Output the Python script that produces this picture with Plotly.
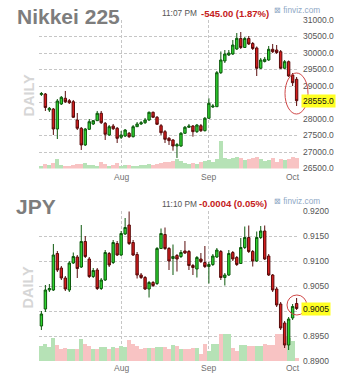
import plotly.graph_objects as go

# ---------------- data ----------------
days = list(range(65))
month_pos = [20, 42, 63]
month_names = ["Aug", "Sep", "Oct"]

nk_open = [28743, 28758, 28273, 28303, 27697, 28455, 28628, 28555, 28525, 27970,
           27719, 27213, 27688, 27849, 27949, 28173, 27870, 27516, 27788, 27719,
           27446, 27485, 27567, 27464, 27767, 27849, 27888, 27970, 28203, 28052,
           27797, 27616, 27415, 27364, 27182, 27182, 27567, 27749, 27788, 27616,
           27797, 27646, 28022, 28364, 28373, 29403, 29758, 29940, 29970, 30121,
           30440, 30167, 30440, 30288, 30152, 29537, 29743, 29788, 30112, 30091,
           30040, 29537, 29737, 29334, 29203]
nk_high = [28818, 28788, 28364, 28334, 28606, 28697, 28849, 28606, 28576, 28182,
           27758, 27728, 28000, 27970, 28243, 28243, 27909, 27818, 27849, 27758,
           27636, 27697, 27606, 27818, 27909, 27940, 28031, 28228, 28228, 28091,
           27849, 27667, 27455, 27394, 27273, 27606, 27788, 27849, 27818, 27849,
           27849, 28061, 28627, 28455, 29455, 30046, 30091, 30091, 30394, 30606,
           30636, 30485, 30515, 30333, 30197, 29849, 29879, 30212, 30273, 30242,
           30091, 29788, 29773, 29394, 29273]
nk_low = [28697, 28243, 28212, 27516, 27394, 28424, 28485, 28455, 28031, 27667,
          27061, 27182, 27667, 27818, 27940, 27849, 27364, 27485, 27667, 27273,
          27394, 27455, 27425, 27440, 27758, 27818, 27849, 27940, 28031, 27818,
          27516, 27273, 27213, 27040, 26819, 27152, 27546, 27728, 27464, 27576,
          27606, 27622, 28000, 28334, 28364, 29364, 29697, 29909, 29940, 30091,
          30121, 30152, 30242, 30091, 29303, 29515, 29712, 29758, 30000, 29970,
          29515, 29515, 29273, 29000, 28394]
nk_close = [28773, 28349, 28324, 27697, 28546, 28658, 28525, 28494, 28052, 27719,
            27213, 27697, 27918, 27949, 28173, 27888, 27537, 27767, 27706, 27415,
            27516, 27667, 27464, 27767, 27849, 27888, 27970, 28203, 28052, 27840,
            27585, 27385, 27343, 27182, 27222, 27567, 27749, 27788, 27616, 27818,
            27646, 28022, 28476, 28394, 29403, 29788, 29970, 30000, 30242, 30445,
            30167, 30440, 30273, 30137, 29537, 29788, 29809, 30112, 30040, 30015,
            29537, 29737, 29303, 29100, 28555]
nk_vol = [3, 5, 4, 6, 10, 4, 3, 3, 4, 5,
          5, 6, 4, 4, 3, 7, 5, 3, 4, 6,
          3, 4, 4, 3, 3, 4, 4, 5, 4, 5,
          6, 7, 7, 8, 10, 8, 6, 5, 6, 5,
          7, 8, 9, 7, 10, 28, 11, 10, 11, 12,
          11, 9, 10, 11, 12, 10, 8, 9, 11, 7,
          10, 9, 10, 12, 11]

jp_open = [0.8970, 0.9004, 0.9042, 0.9042, 0.9115, 0.9086, 0.9066, 0.9042, 0.9096, 0.9108,
           0.9088, 0.9139, 0.9104, 0.9069, 0.9082, 0.9045, 0.9062, 0.9115, 0.9097, 0.9135,
           0.9112, 0.9154, 0.9172, 0.9137, 0.9113, 0.9072, 0.9067, 0.9044, 0.9057, 0.9055,
           0.9125, 0.9153, 0.9125, 0.9105, 0.9111, 0.9109, 0.9120, 0.9119, 0.9091, 0.9084,
           0.9104, 0.9097, 0.9089, 0.9093, 0.9108, 0.9119, 0.9067, 0.9072, 0.9117, 0.9107,
           0.9095, 0.9127, 0.9147, 0.9119, 0.9100, 0.9147, 0.9160, 0.9110, 0.9072, 0.9044,
           0.9014, 0.8976, 0.8932, 0.8986, 0.9015]
jp_high = [0.9000, 0.9052, 0.9054, 0.9134, 0.9120, 0.9090, 0.9070, 0.9100, 0.9117, 0.9112,
           0.9172, 0.9150, 0.9108, 0.9086, 0.9086, 0.9066, 0.9122, 0.9118, 0.9142, 0.9140,
           0.9160, 0.9186, 0.9199, 0.9142, 0.9118, 0.9076, 0.9070, 0.9060, 0.9060, 0.9128,
           0.9165, 0.9167, 0.9128, 0.9133, 0.9114, 0.9122, 0.9140, 0.9122, 0.9094, 0.9110,
           0.9116, 0.9130, 0.9098, 0.9114, 0.9126, 0.9122, 0.9076, 0.9122, 0.9120, 0.9110,
           0.9146, 0.9169, 0.9171, 0.9122, 0.9159, 0.9170, 0.9171, 0.9114, 0.9074, 0.9048,
           0.9018, 0.8980, 0.8988, 0.9014, 0.9026]
jp_low = [0.8962, 0.8998, 0.9038, 0.9040, 0.9078, 0.9062, 0.9040, 0.9038, 0.9094, 0.9066,
          0.9086, 0.9106, 0.9066, 0.9066, 0.9042, 0.9042, 0.9060, 0.9088, 0.9094, 0.9110,
          0.9110, 0.9152, 0.9132, 0.9110, 0.9065, 0.9064, 0.9042, 0.9027, 0.9048, 0.9052,
          0.9124, 0.9122, 0.9082, 0.9072, 0.9079, 0.9106, 0.9114, 0.9082, 0.9072, 0.9067,
          0.9096, 0.9086, 0.9055, 0.9090, 0.9106, 0.9062, 0.9051, 0.9070, 0.9100, 0.9090,
          0.9094, 0.9124, 0.9116, 0.9089, 0.9098, 0.9144, 0.9102, 0.9070, 0.9038, 0.9008,
          0.8962, 0.8926, 0.8922, 0.8982, 0.9002]
jp_close = [0.8994, 0.9042, 0.9045, 0.9112, 0.9082, 0.9066, 0.9044, 0.9096, 0.9109, 0.9085,
            0.9139, 0.9109, 0.9069, 0.9081, 0.9045, 0.9062, 0.9117, 0.9092, 0.9137, 0.9112,
            0.9155, 0.9167, 0.9135, 0.9112, 0.9072, 0.9067, 0.9044, 0.9057, 0.9051, 0.9125,
            0.9155, 0.9125, 0.9100, 0.9109, 0.9104, 0.9117, 0.9116, 0.9091, 0.9087, 0.9107,
            0.9099, 0.9089, 0.9093, 0.9110, 0.9122, 0.9067, 0.9072, 0.9115, 0.9104, 0.9093,
            0.9127, 0.9147, 0.9119, 0.9100, 0.9147, 0.9160, 0.9104, 0.9072, 0.9042, 0.9012,
            0.8966, 0.8932, 0.8984, 0.9009, 0.9005]
jp_vol = [15, 17, 14, 23, 16, 12, 13, 12, 12, 12,
          22, 17, 15, 12, 12, 14, 14, 12, 14, 13,
          15, 14, 21, 17, 15, 12, 13, 13, 13, 14,
          14, 14, 12, 16, 15, 12, 12, 12, 13, 13,
          7, 17, 10, 17, 17, 27, 27, 27, 13, 10,
          16, 16, 15, 15, 15, 15, 17, 16, 16, 27,
          27, 25, 23, 20, 3]

nk_ticks = [26500, 27000, 27500, 28000, 28500, 29000, 29500, 30000, 30500, 31000]
jp_ticks = [0.8900, 0.8950, 0.9000, 0.9050, 0.9100, 0.9150, 0.9200]

# ---------------- styling ----------------
FONT = "Liberation Sans, Arial, sans-serif"
GRID = "#c6c6c6"
UP_FILL, UP_LINE = "#2fd42f", "#0d5a0d"
DN_FILL, DN_LINE = "#d41c1c", "#5a0c0c"
VUP, VDN = "#b6e2b6", "#f8c3c3"

def vcolors(o, c):
    return [VUP if cc >= oo else VDN for oo, cc in zip(o, c)]

def labels(ticks, fmt, last):
    # the tick label hidden behind the yellow last-price box is left blank
    out = []
    for t in ticks:
        near = abs(t - last) < (ticks[1] - ticks[0]) * 0.3
        out.append("" if near else fmt % t)
    return out

fig = go.Figure()
fig.add_trace(go.Bar(x=days, y=nk_vol, marker=dict(color=vcolors(nk_open, nk_close), line=dict(width=0)),
                     width=1.0, xaxis="x", yaxis="y", showlegend=False, hoverinfo="skip"))
fig.add_trace(go.Candlestick(x=days, open=nk_open, high=nk_high, low=nk_low, close=nk_close,
                             xaxis="x", yaxis="y3", showlegend=False, whiskerwidth=0,
                             increasing=dict(fillcolor=UP_FILL, line=dict(color=UP_LINE, width=1)),
                             decreasing=dict(fillcolor=DN_FILL, line=dict(color=DN_LINE, width=1))))
fig.add_trace(go.Bar(x=days, y=jp_vol, marker=dict(color=vcolors(jp_open, jp_close), line=dict(width=0)),
                     width=1.0, xaxis="x2", yaxis="y2", showlegend=False, hoverinfo="skip"))
fig.add_trace(go.Candlestick(x=days, open=jp_open, high=jp_high, low=jp_low, close=jp_close,
                             xaxis="x2", yaxis="y4", showlegend=False, whiskerwidth=0,
                             increasing=dict(fillcolor=UP_FILL, line=dict(color=UP_LINE, width=1)),
                             decreasing=dict(fillcolor=DN_FILL, line=dict(color=DN_LINE, width=1))))

W, H = 351, 385
L, R, T, B = 39, 52, 20, 24
PW, PH = W - L - R, H - T - B

def px(xp):
    return (xp - L) / PW

def py(yp):
    return (H - B - yp) / PH

top_dom = [py(168.5), 1.0]
bot_dom = [0.0, py(211)]

xcommon = dict(range=[-0.6, 64.6], tickvals=[-0.5, 20, 42, 64.4], showticklabels=False,
               showgrid=True, gridcolor=GRID, griddash="3px,2px", gridwidth=1,
               zeroline=False, showline=False, ticks="", fixedrange=True,
               rangeslider=dict(visible=False))
ycommon = dict(side="right", showgrid=True, gridcolor=GRID, griddash="3px,2px", gridwidth=1,
               zeroline=False, showline=False, ticks="", ticklabelstandoff=3,
               tickfont=dict(family=FONT, size=8.5, color="#555555"), fixedrange=True)

fig.update_layout(
    width=W, height=H, margin=dict(l=L, r=R, t=T, b=B, autoexpand=False),
    paper_bgcolor="white", plot_bgcolor="white", bargap=0,
    boxgap=0.25, boxgroupgap=0.2,
    font=dict(family=FONT),
    xaxis=dict(domain=[0, 1], anchor="y", **xcommon),
    xaxis2=dict(domain=[0, 1], anchor="y2", **xcommon),
    yaxis=dict(domain=top_dom, anchor="x", range=[0, 148.5], visible=False, fixedrange=True),
    yaxis2=dict(domain=bot_dom, anchor="x2", range=[0, 150], visible=False, fixedrange=True),
    yaxis3=dict(overlaying="y", anchor="x", range=[26500, 31000], tickvals=nk_ticks,
                ticktext=labels(nk_ticks, "%.1f", nk_close[-1]), **ycommon),
    yaxis4=dict(overlaying="y2", anchor="x2", range=[0.8900, 0.9200], tickvals=jp_ticks,
                ticktext=labels(jp_ticks, "%.4f", jp_close[-1]), **ycommon),
)

ann = []
def txt(text, x, y, size, color, bold=False, xanchor="left", **kw):
    ann.append(dict(text=("<b>%s</b>" % text) if bold else text, x=x, y=y, xref="paper", yref="paper",
                    xanchor=xanchor, yanchor="middle", showarrow=False,
                    font=dict(family=FONT, size=size, color=color), **kw))

# panel headers
txt("Nikkei 225", px(15), py(16), 21, "#7d7d7d", bold=True)
txt("11:07 PM", px(160), py(13), 8.3, "#555555")
txt("-545.00 (1.87%)", px(199), py(13), 9.5, "#c42020", bold=True)
txt("⊠ finviz.com", px(273), py(10), 8.3, "#8fa9c6", borderpad=0)
txt("JPY", px(14), py(207), 21, "#7d7d7d", bold=True)
txt("11:10 PM", px(160), py(203.5), 8.3, "#555555")
txt("-0.0004 (0.05%)", px(197), py(203.5), 9.5, "#c42020", bold=True)
txt("⊠ finviz.com", px(273), py(200.5), 8.3, "#8fa9c6", borderpad=0)
# DAILY watermarks
txt("DAILY", px(28), py(95.5), 14.5, "#d6d6d6", bold=True, xanchor="center", textangle=-90)
txt("DAILY", px(27), py(287.5), 14.5, "#d6d6d6", bold=True, xanchor="center", textangle=-90)

# month labels
for pos, name in zip(month_pos, month_names):
    for yy in (py(176.5), py(367.5)):
        ann.append(dict(text=name, x=pos, y=yy, xref="x", yref="paper", xanchor="center",
                        yanchor="middle", showarrow=False,
                        font=dict(family=FONT, size=8.5, color="#707070")))

# last price labels
ann.append(dict(text="%.1f" % nk_close[-1], x=1, y=nk_close[-1], xref="paper", yref="y3",
                xanchor="left", yanchor="middle", xshift=2, showarrow=False, bgcolor="#ffff22",
                borderpad=1, font=dict(family=FONT, size=8.5, color="#111111")))
ann.append(dict(text="%.4f" % jp_close[-1], x=1, y=jp_close[-1], xref="paper", yref="y4",
                xanchor="left", yanchor="middle", xshift=2, showarrow=False, bgcolor="#ffff22",
                borderpad=1, font=dict(family=FONT, size=8.5, color="#111111")))

fig.update_layout(annotations=ann)

# red circles around latest bar
fig.add_shape(type="circle", xref="paper", yref="paper", x0=px(285), x1=px(308), y0=py(114), y1=py(73),
              line=dict(color="#d04848", width=1))
fig.add_shape(type="circle", xref="paper", yref="paper", x0=px(287), x1=px(306.7), y0=py(315), y1=py(295),
              line=dict(color="#d04848", width=1))

fig.write_html("out.html", config={"displayModeBar": False})
